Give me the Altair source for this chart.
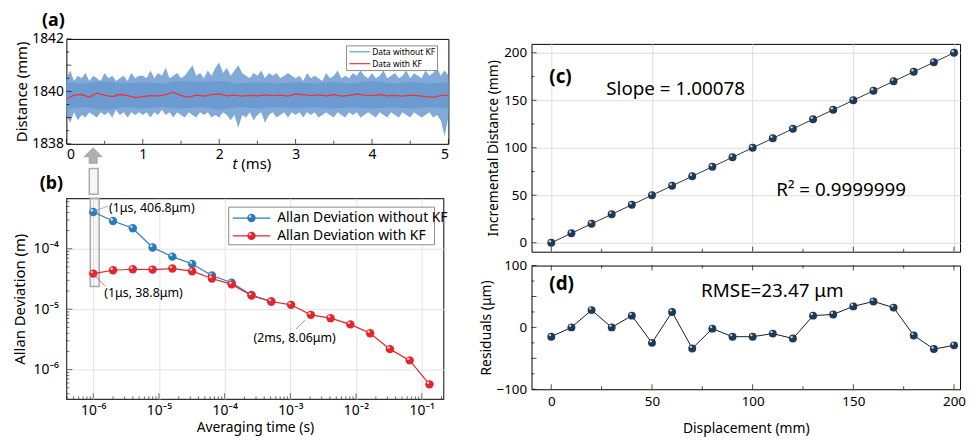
import altair as alt
import pandas as pd

FONT = "Noto Sans"
BLUE_A = "#6b9bd1"
RED_A = "#f03434"
BLUE_B = "#2b7bba"
RED_B = "#e3262b"
NAVY = "#1d3b58"

# ---------------- (a) time series ----------------
t_env = [i / 20 for i in range(101)]
env_upper = [1840.5, 1840.8, 1840.4, 1840.6, 1840.5, 1840.7, 1840.4, 1840.6, 1840.5, 1840.4,
             1840.7, 1840.5, 1840.6, 1840.4, 1840.5, 1840.6, 1840.4, 1840.7, 1840.5, 1840.6,
             1840.6, 1840.5, 1840.8, 1840.5, 1840.7, 1840.6, 1840.9, 1840.5, 1840.6, 1840.7,
             1840.5, 1840.6, 1840.8, 1841.0, 1840.6, 1840.7, 1840.5, 1840.8, 1840.6, 1840.9,
             1841.1, 1840.7, 1840.9, 1840.6, 1840.8, 1841.0, 1840.7, 1840.6, 1840.5, 1840.7,
             1840.6, 1840.8, 1840.5, 1840.7, 1840.6, 1840.7, 1840.5, 1840.6, 1840.7, 1840.6,
             1840.5, 1840.6, 1840.4, 1840.7, 1840.5, 1840.6, 1840.5, 1840.4, 1840.7, 1840.5,
             1840.6, 1840.8, 1840.5, 1840.6, 1840.5, 1840.7, 1840.6, 1840.8, 1840.6, 1840.5,
             1840.7, 1840.5, 1840.6, 1840.8, 1840.5, 1840.6, 1840.7, 1840.5, 1840.6, 1840.8,
             1840.5, 1840.7, 1840.6, 1840.5, 1840.8, 1840.6, 1840.7, 1840.9, 1840.6, 1840.8,
             1840.6]
env_lower = [1839.1, 1838.8, 1839.2, 1838.9, 1839.1, 1839.0, 1839.2, 1839.1, 1839.0, 1839.2,
             1839.1, 1839.2, 1839.0, 1839.3, 1839.1, 1839.2, 1839.0, 1839.2, 1839.1, 1839.2,
             1839.1, 1839.2, 1839.0, 1839.2, 1839.1, 1839.3, 1839.1, 1839.2, 1839.0, 1839.2,
             1839.1, 1839.0, 1839.2, 1839.1, 1839.0, 1839.2, 1839.1, 1839.2, 1839.0, 1839.1,
             1839.0, 1839.2, 1839.1, 1838.9, 1839.1, 1838.6, 1839.1, 1839.0, 1839.2, 1838.9,
             1839.1, 1839.2, 1838.8, 1839.1, 1839.2, 1839.0, 1839.1, 1839.2, 1839.0, 1839.2,
             1839.1, 1839.2, 1839.0, 1839.2, 1839.1, 1839.2, 1839.0, 1839.1, 1839.2, 1839.1,
             1839.0, 1839.2, 1839.1, 1839.0, 1839.2, 1839.1, 1839.2, 1839.0, 1839.1, 1839.2,
             1839.1, 1839.0, 1839.2, 1839.1, 1839.0, 1839.2, 1839.1, 1839.0, 1839.2, 1839.1,
             1839.0, 1839.2, 1839.1, 1839.0, 1839.1, 1839.2, 1839.0, 1839.1, 1838.9, 1838.3,
             1839.0]
t_core = [i / 4 for i in range(21)]
core_upper = [1840.35, 1840.3, 1840.4, 1840.3, 1840.35, 1840.3, 1840.4, 1840.35, 1840.4, 1840.3,
              1840.35, 1840.3, 1840.35, 1840.3, 1840.35, 1840.3, 1840.4, 1840.3, 1840.35, 1840.3,
              1840.35]
core_lower = [1839.35, 1839.4, 1839.3, 1839.4, 1839.35, 1839.4, 1839.35, 1839.4, 1839.3, 1839.4,
              1839.35, 1839.4, 1839.35, 1839.4, 1839.35, 1839.4, 1839.35, 1839.4, 1839.35, 1839.4,
              1839.35]
t_kf = [i / 10 for i in range(51)]
kf_vals = [1839.72, 1839.86, 1839.88, 1839.78, 1839.93, 1839.86, 1839.80, 1839.88, 1839.84, 1839.76,
           1839.80, 1839.84, 1839.83, 1839.88, 1839.97, 1839.84, 1839.78, 1839.86, 1839.82, 1839.88,
           1839.90, 1839.83, 1839.86, 1839.82, 1839.85, 1839.83, 1839.87, 1839.84, 1839.86, 1839.82,
           1839.90, 1839.88, 1839.84, 1839.87, 1839.83, 1839.88, 1839.82, 1839.85, 1839.90, 1839.86,
           1839.84, 1839.88, 1839.83, 1839.85, 1839.82, 1839.86, 1839.84, 1839.80, 1839.78, 1839.84,
           1839.86]
a_series = ["Data without KF", "Data with KF"]
a_colors = [BLUE_A, RED_A]
a_xticks = [0, 1, 2, 3, 4, 5]
a_yticks = [1838, 1839, 1840, 1841, 1842]

# ---------------- (b) Allan deviation ----------------
tau = [1e-6, 2e-6, 4e-6, 8e-6, 1.6e-5, 3.2e-5, 6.4e-5, 1.28e-4, 2.56e-4, 5.12e-4,
       1.024e-3, 2.048e-3, 4.096e-3, 8.192e-3, 1.6384e-2, 3.2768e-2, 6.5536e-2, 1.31072e-1]
adev_raw = [4.068e-4, 2.88e-4, 2.18e-4, 1.05e-4, 7.4e-5, 5.6e-5, 3.6e-5, 2.74e-5, 1.72e-5, 1.34e-5]
adev_kf = [3.88e-5, 4.41e-5, 4.58e-5, 4.52e-5, 4.7e-5, 4.25e-5, 3.22e-5, 2.57e-5, 1.68e-5, 1.34e-5,
           1.18e-5, 8.06e-6, 7.1e-6, 5.6e-6, 4.0e-6, 2.18e-6, 1.42e-6, 5.7e-7]
b_series = ["Allan Deviation without KF", "Allan Deviation with KF"]
b_colors = [BLUE_B, RED_B]
b_xticks = [1e-6, 1e-5, 1e-4, 1e-3, 1e-2, 1e-1]
b_yticks = [1e-6, 1e-5, 1e-4]

# ---------------- (c)/(d) linearity ----------------
disp = [0, 10, 20, 30, 40, 50, 60, 70, 80, 90, 100, 110, 120, 130, 140, 150, 160, 170, 180, 190, 200]
incr = [0, 10, 20, 30, 40, 50, 60, 70, 80, 90, 100, 110, 120, 130, 140, 150, 160, 170, 180, 190, 200]
resid = [-15, 0, 28, 0, 19, -25, 25, -34, -2, -15, -15, -10, -18, 19, 21, 34, 42, 32, -13, -35, -29]
c_ticks = [0, 50, 100, 150, 200]
d_yticks = [-100, -50, 0, 50, 100]

W_A, H_A = 386, 106
W_B, H_B = 381, 203
W_C, H_C, H_D = 433, 210, 125

AX = dict(ticks=False, domain=False, labelFontSize=14, titleFontSize=15, labelColor="black",
          titleColor="black", labelFont=FONT, titleFont=FONT, titleFontWeight="normal")
ONE = pd.DataFrame({"z": [0]})


def xticks(values, scale, size, h, top=False, color="black"):
    df = pd.DataFrame({"v": values})
    return alt.Chart(df).mark_tick(orient="vertical", size=size, thickness=1, color=color).encode(
        x=alt.X("v:Q", scale=scale),
        y=alt.value(size / 2 if top else h - size / 2))


def yticks(values, scale, size, color="black"):
    df = pd.DataFrame({"v": values})
    return alt.Chart(df).mark_tick(orient="horizontal", size=size, thickness=1, color=color).encode(
        y=alt.Y("v:Q", scale=scale),
        x=alt.value(size / 2))


def legend_layers(names, colors, box, line_x, row_y, label_x, font_size, marker_size=0):
    """Framed legend drawn inside a panel (pixel positions relative to the plot area)."""
    x0, x1, y0, y1 = box
    layers = [alt.Chart(ONE).mark_rect(fill="white", stroke="#8c8c8c", strokeWidth=1).encode(
        x=alt.value(x0), x2=alt.value(x1), y=alt.value(y0), y2=alt.value(y1))]
    for name, col, ry in zip(names, colors, row_y):
        layers.append(alt.Chart(ONE).mark_rule(color=col, strokeWidth=1.2).encode(
            x=alt.value(line_x[0]), x2=alt.value(line_x[1]), y=alt.value(ry)))
        if marker_size:
            cx = (line_x[0] + line_x[1]) / 2
            layers.append(alt.Chart(ONE).mark_circle(color=col, size=marker_size, opacity=1).encode(
                x=alt.value(cx), y=alt.value(ry)))
            layers.append(alt.Chart(ONE).mark_circle(color="white", size=7, opacity=0.75).encode(
                x=alt.value(cx - 1.4), y=alt.value(ry - 1.6)))
        layers.append(alt.Chart(ONE).mark_text(text=name, align="left", baseline="middle",
                                               fontSize=font_size, font=FONT, color="black").encode(
            x=alt.value(label_x), y=alt.value(ry)))
    return layers


# ---------------- panel (a) ----------------
xa = alt.Scale(domain=[0, 5], nice=False, zero=False)
ya = alt.Scale(domain=[1838, 1842], nice=False, zero=False)
env_df = pd.DataFrame({"t": t_env, "hi": env_upper, "lo": env_lower})
core_df = pd.DataFrame({"t": t_core, "hi": core_upper, "lo": core_lower})
kf_df = pd.DataFrame({"t": t_kf, "y": kf_vals})

a_outer = alt.Chart(env_df).mark_area(color=BLUE_A, opacity=0.85).encode(
    x=alt.X("t:Q", scale=xa, axis=alt.Axis(values=a_xticks, title=None, grid=False, format="d",
                                            labelPadding=4, **AX)),
    y=alt.Y("hi:Q", scale=ya, axis=alt.Axis(values=a_yticks, title="Distance (mm)", grid=False, format="d",
                                             labelPadding=3, titlePadding=2, **AX)),
    y2="lo:Q")
a_core = alt.Chart(core_df).mark_area(color=BLUE_A).encode(
    x=alt.X("t:Q", scale=xa), y=alt.Y("hi:Q", scale=ya), y2="lo:Q")
a_kf = alt.Chart(kf_df).mark_line(strokeWidth=1.3, color=RED_A).encode(
    x=alt.X("t:Q", scale=xa), y=alt.Y("y:Q", scale=ya))
a_lab = alt.Chart(pd.DataFrame({"x": [-0.32], "y": [1842.70], "s": ["(a)"]})).mark_text(
    align="left", baseline="middle", fontSize=18, fontWeight="bold", font=FONT, clip=False).encode(
    x=alt.X("x:Q", scale=xa), y=alt.Y("y:Q", scale=ya), text="s:N")
a_t = alt.Chart(pd.DataFrame({"x": [2.24], "y": [1837.21], "s": ["t"]})).mark_text(
    align="right", baseline="middle", fontSize=15, fontStyle="italic", font=FONT, clip=False).encode(
    x=alt.X("x:Q", scale=xa), y=alt.Y("y:Q", scale=ya), text="s:N")
a_ms = alt.Chart(pd.DataFrame({"x": [2.29], "y": [1837.21], "s": ["(ms)"]})).mark_text(
    align="left", baseline="middle", fontSize=15, font=FONT, clip=False).encode(
    x=alt.X("x:Q", scale=xa), y=alt.Y("y:Q", scale=ya), text="s:N")
# gray arrow and the upper part of the highlight box (between panels a and b)
ARROW = "M0,-1L1,0L0.45,0L0.45,0.75L-0.45,0.75L-0.45,0L-1,0Z"
a_arrow = alt.Chart(pd.DataFrame({"x": [0.35], "y": [1837.51]})).mark_point(
    shape=ARROW, filled=True, size=324, color="#b0b0b0", stroke="#999999", strokeWidth=0.8,
    opacity=1, clip=False).encode(x=alt.X("x:Q", scale=xa), y=alt.Y("y:Q", scale=ya))
a_box = alt.Chart(pd.DataFrame({"x": [0.30], "x2": [0.415], "y": [1837.06], "y2": [1836.075]})).mark_rect(
    fill="#d9d9d9", fillOpacity=0.25, stroke="#aaaaaa", strokeWidth=1.5, clip=False).encode(
    x=alt.X("x:Q", scale=xa), x2="x2:Q", y=alt.Y("y:Q", scale=ya), y2="y2:Q")
a_blab = alt.Chart(pd.DataFrame({"x": [-0.35], "y": [1836.45], "s": ["(b)"]})).mark_text(
    align="left", baseline="middle", fontSize=18, fontWeight="bold", font=FONT, clip=False).encode(
    x=alt.X("x:Q", scale=xa), y=alt.Y("y:Q", scale=ya), text="s:N")
a_minor_x = [0.5, 1.5, 2.5, 3.5, 4.5]
a_minor_y = [1838.5, 1839.5, 1840.5, 1841.5]
panel_a = alt.layer(
    a_outer, a_core, a_kf, a_lab, a_t, a_ms, a_arrow, a_box, a_blab,
    xticks(a_xticks, xa, 5, H_A), xticks(a_minor_x, xa, 3, H_A),
    yticks(a_yticks, ya, 5), yticks(a_minor_y, ya, 3),
    *legend_layers(a_series, a_colors, (283, 375, 7, 32), (286, 307), (13, 25), 309, 8.5),
).properties(width=W_A, height=H_A, view=alt.ViewBackground(stroke="black", strokeWidth=1))

# ---------------- panel (b) ----------------
xb = alt.Scale(type="log", domain=[3.9e-7, 0.214], nice=False)
yb = alt.Scale(type="log", domain=[3.24e-7, 6.85e-4], nice=False)
b_lbl = ("datum.value < 3e-6 ? '10⁻⁶' : datum.value < 3e-5 ? '10⁻⁵' : datum.value < 3e-4 ? '10⁻⁴' : "
         "datum.value < 3e-3 ? '10⁻³' : datum.value < 3e-2 ? '10⁻²' : '10⁻¹'")
b_raw = pd.DataFrame({"tau": tau[:len(adev_raw)], "ad": adev_raw})
b_kf = pd.DataFrame({"tau": tau, "ad": adev_kf})


def b_series_layers(df, col):
    line = alt.Chart(df).mark_line(strokeWidth=1.2, color=col).encode(
        x=alt.X("tau:Q", scale=xb), y=alt.Y("ad:Q", scale=yb))
    pts = alt.Chart(df).mark_circle(size=72, opacity=1, color=col).encode(
        x=alt.X("tau:Q", scale=xb), y=alt.Y("ad:Q", scale=yb))
    hi = alt.Chart(df).mark_circle(color="white", size=7, opacity=0.75, xOffset=-1.4, yOffset=-1.6).encode(
        x=alt.X("tau:Q", scale=xb), y=alt.Y("ad:Q", scale=yb))
    return [line, pts, hi]


b_axes = alt.Chart(b_kf).mark_point(opacity=0).encode(
    x=alt.X("tau:Q", scale=xb, axis=alt.Axis(values=b_xticks, labelExpr=b_lbl, title="Averaging time (s)",
                                              grid=True, gridColor="#e3e3e3", labelPadding=4, titlePadding=4,
                                              **dict(AX, titleFontSize=14))),
    y=alt.Y("ad:Q", scale=yb, axis=alt.Axis(values=b_yticks, labelExpr=b_lbl, title="Allan Deviation (m)",
                                             grid=True, gridColor="#e3e3e3", labelPadding=8, titlePadding=6, **AX)))
ann_b = pd.DataFrame({
    "x": [1.74e-6, 1.47e-6, 2.75e-4],
    "y": [4.70e-4, 1.83e-5, 3.35e-6],
    "s": ["(1μs, 406.8μm)", "(1μs, 38.8μm)", "(2ms, 8.06μm)"],
})
b_ann = alt.Chart(ann_b).mark_text(align="left", baseline="middle", fontSize=12.5, font=FONT, clip=False).encode(
    x=alt.X("x:Q", scale=xb), y=alt.Y("y:Q", scale=yb), text="s:N")
lead_b = pd.DataFrame({
    "x": [1.03e-6, 1.04e-6, 1.67e-3], "y": [4.2e-4, 3.7e-5, 6.6e-6],
    "x2": [1.68e-6, 1.52e-6, 1.22e-3], "y2": [5.07e-4, 2.38e-5, 4.7e-6],
    "c": ["#7fa8d2", "#e05a5a", "#888888"],
})
b_lead = alt.Chart(lead_b).mark_rule(strokeWidth=0.8).encode(
    x=alt.X("x:Q", scale=xb), y=alt.Y("y:Q", scale=yb), x2="x2:Q", y2="y2:Q",
    color=alt.Color("c:N", scale=None))
b_box = alt.Chart(pd.DataFrame({"x": [9.0e-7], "x2": [1.23e-6], "y": [2.38e-5], "y2": [6.85e-4]})).mark_rect(
    fill="#d9d9d9", fillOpacity=0.25, stroke="#aaaaaa", strokeWidth=1.5).encode(
    x=alt.X("x:Q", scale=xb), x2="x2:Q", y=alt.Y("y:Q", scale=yb), y2="y2:Q")
b_minor_x = [m * 10.0 ** e for e in range(-7, 0) for m in range(2, 10) if 3.9e-7 < m * 10.0 ** e < 0.214]
b_minor_y = [m * 10.0 ** e for e in range(-7, -3) for m in range(2, 10) if 3.24e-7 < m * 10.0 ** e < 6.85e-4]
panel_b = alt.layer(
    b_axes, b_box, *b_series_layers(b_raw, BLUE_B), *b_series_layers(b_kf, RED_B), b_lead, b_ann,
    xticks(b_xticks, xb, 6, H_B, color="#333"), xticks(b_minor_x, xb, 3, H_B, color="#333"),
    yticks(b_yticks, yb, 6, color="#333"), yticks(b_minor_y, yb, 3, color="#333"),
    *legend_layers(b_series, b_colors, (164, 372, 9, 47), (168, 206), (20, 38), 213, 14, marker_size=72),
).properties(width=W_B, height=H_B, view=alt.ViewBackground(stroke="#333333", strokeWidth=1.2))

# ---------------- panel (c) ----------------
xc = alt.Scale(domain=[-9.8, 203], nice=False, zero=False)
yc = alt.Scale(domain=[-9.4, 209.4], nice=False, zero=False)
yd = alt.Scale(domain=[-100, 100], nice=False, zero=False)
cd_df = pd.DataFrame({"d": disp, "inc": incr, "res": resid})
AXC = dict(AX, labelFontSize=13.5, titleFontSize=14)
c_line = alt.Chart(cd_df).mark_line(color="black", strokeWidth=0.8).encode(
    x=alt.X("d:Q", scale=xc, axis=alt.Axis(values=c_ticks, labels=False, title=None, grid=True,
                                            gridColor="#dddddd", **AX)),
    y=alt.Y("inc:Q", scale=yc, axis=alt.Axis(values=c_ticks, title="Incremental Distance (mm)", grid=True,
                                              gridColor="#dddddd", labelPadding=5, titlePadding=3, **AXC)))
c_pts = alt.Chart(cd_df).mark_circle(color=NAVY, size=64, opacity=1).encode(
    x=alt.X("d:Q", scale=xc), y=alt.Y("inc:Q", scale=yc))
c_hi = alt.Chart(cd_df).mark_circle(color="white", size=6, opacity=0.75, xOffset=-1.3, yOffset=-1.6).encode(
    x=alt.X("d:Q", scale=xc), y=alt.Y("inc:Q", scale=yc))
c_txt = pd.DataFrame({"x": [27.3, 111.7], "y": [161.5, 56.0], "s": ["Slope = 1.00078", "R² = 0.9999999"]})
c_text = alt.Chart(c_txt).mark_text(align="left", baseline="middle", fontSize=19, font=FONT).encode(
    x=alt.X("x:Q", scale=xc), y=alt.Y("y:Q", scale=yc), text="s:N")
c_bold = alt.Chart(pd.DataFrame({"x": [-1.0], "y": [174.0], "s": ["(c)"]})).mark_text(
    align="left", baseline="middle", fontSize=19, fontWeight="bold", font=FONT).encode(
    x=alt.X("x:Q", scale=xc), y=alt.Y("y:Q", scale=yc), text="s:N")
minor25 = [25, 75, 125, 175]
panel_c = alt.layer(
    c_line, c_pts, c_hi, c_text, c_bold,
    xticks(c_ticks, xc, 5, H_C), xticks(minor25, xc, 3, H_C),
    yticks(c_ticks, yc, 5), yticks(minor25, yc, 3),
).properties(width=W_C, height=H_C, view=alt.ViewBackground(stroke="black", strokeWidth=1))

# ---------------- panel (d) ----------------
d_line = alt.Chart(cd_df).mark_line(color="black", strokeWidth=0.9).encode(
    x=alt.X("d:Q", scale=xc, axis=alt.Axis(values=c_ticks, title="Displacement (mm)", grid=False,
                                            labelPadding=5, titlePadding=14, **AXC)),
    y=alt.Y("res:Q", scale=yd, axis=alt.Axis(values=d_yticks, title="Residuals (μm)", grid=False,
                                              labelPadding=5, titlePadding=3, **AXC)))
d_pts = alt.Chart(cd_df).mark_circle(color=NAVY, size=64, opacity=1).encode(
    x=alt.X("d:Q", scale=xc), y=alt.Y("res:Q", scale=yd))
d_hi = alt.Chart(cd_df).mark_circle(color="white", size=6, opacity=0.75, xOffset=-1.3, yOffset=-1.6).encode(
    x=alt.X("d:Q", scale=xc), y=alt.Y("res:Q", scale=yd))
d_text = alt.Chart(pd.DataFrame({"x": [74.4], "y": [58.4], "s": ["RMSE=23.47 μm"]})).mark_text(
    align="left", baseline="middle", fontSize=19, font=FONT).encode(
    x=alt.X("x:Q", scale=xc), y=alt.Y("y:Q", scale=yd), text="s:N")
d_bold = alt.Chart(pd.DataFrame({"x": [-1.0], "y": [69.6], "s": ["(d)"]})).mark_text(
    align="left", baseline="middle", fontSize=19, fontWeight="bold", font=FONT).encode(
    x=alt.X("x:Q", scale=xc), y=alt.Y("y:Q", scale=yd), text="s:N")
d_minor_y = [-75, -25, 25, 75]
panel_d = alt.layer(
    d_line, d_pts, d_hi, d_text, d_bold,
    xticks(c_ticks, xc, 5, H_D), xticks(minor25, xc, 3, H_D),
    xticks(c_ticks, xc, 5, H_D, top=True), xticks(minor25, xc, 3, H_D, top=True),
    yticks(d_yticks, yd, 5), yticks(d_minor_y, yd, 3),
).properties(width=W_C, height=H_D, view=alt.ViewBackground(stroke="black", strokeWidth=1))

# thin empty view that lowers the right-hand column a few pixels
spacer = alt.Chart(ONE).mark_point(opacity=0, size=0).encode(
    x=alt.value(0), y=alt.value(0)).properties(width=W_C, height=1,
                                                view=alt.ViewBackground(stroke="transparent"))

left = alt.vconcat(panel_a, panel_b, spacing=0)
right = alt.vconcat(spacer, alt.vconcat(panel_c, panel_d, spacing=5), spacing=2)
chart = alt.hconcat(left, right, spacing=26).properties(
    padding={"left": 3, "top": 0, "right": 0, "bottom": 0}
).configure(font=FONT).configure_axis(titleFontWeight="normal")

chart.save("out.html", embed_options={"renderer": "svg", "actions": False})
